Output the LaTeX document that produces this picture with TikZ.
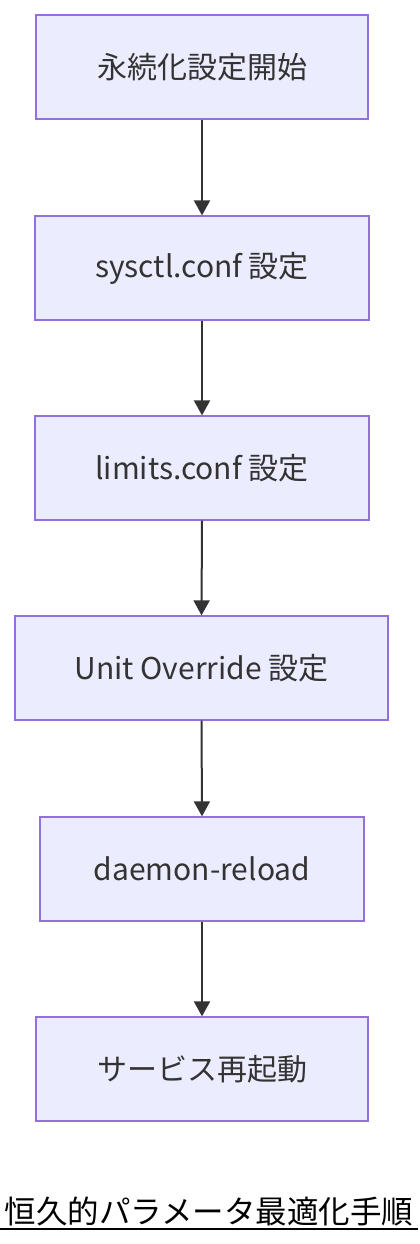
\documentclass[tikz,border=0pt]{standalone}
\usepackage{fontspec}
\setmainfont{Noto Sans CJK JP}
\usetikzlibrary{arrows.meta}
\definecolor{boxfill}{HTML}{ECECFF}
\definecolor{boxline}{HTML}{9370DB}
\definecolor{ink}{HTML}{333333}
\tikzset{
  stepbox/.style={draw=boxline, fill=boxfill, line width=1.3pt, inner sep=0pt,
    minimum height=104pt, text=ink, font=\fontsize{30pt}{36pt}\selectfont},
  flow/.style={draw=ink, line width=2pt, -{Triangle[length=15pt,width=16pt]}}
}
\begin{document}
\begin{tikzpicture}[x=1pt,y=-1pt]
\useasboundingbox (0,0) rectangle (420,1244);
\node[stepbox, minimum width=332pt] (a) at (202,67) {永続化設定開始};
\node[stepbox, minimum width=334pt] (b) at (202,268) {sysctl.conf 設定};
\node[stepbox, minimum width=334pt] (c) at (202,468) {limits.conf 設定};
\node[stepbox, minimum width=373pt] (d) at (201.5,668) {Unit Override 設定};
\node[stepbox, minimum width=324pt] (e) at (202,869) {daemon-reload};
\node[stepbox, minimum width=332pt] (f) at (202,1069) {サービス再起動};
\draw[flow] (a.south) -- (b.north);
\draw[flow] (b.south) -- (c.north);
\draw[flow] (c.south) -- (d.north);
\draw[flow] (d.south) -- (e.north);
\draw[flow] (e.south) -- (f.north);
\node[font=\fontsize{31.5pt}{38pt}\selectfont, text=black, inner sep=0pt] (t) at (209,1211) {恒久的パラメータ最適化手順};
\coordinate (u1) at (0,1229);
\coordinate (u2) at (418,1229);
\draw[line width=2pt, black] (u1) -- (u2);
\end{tikzpicture}
\end{document}
